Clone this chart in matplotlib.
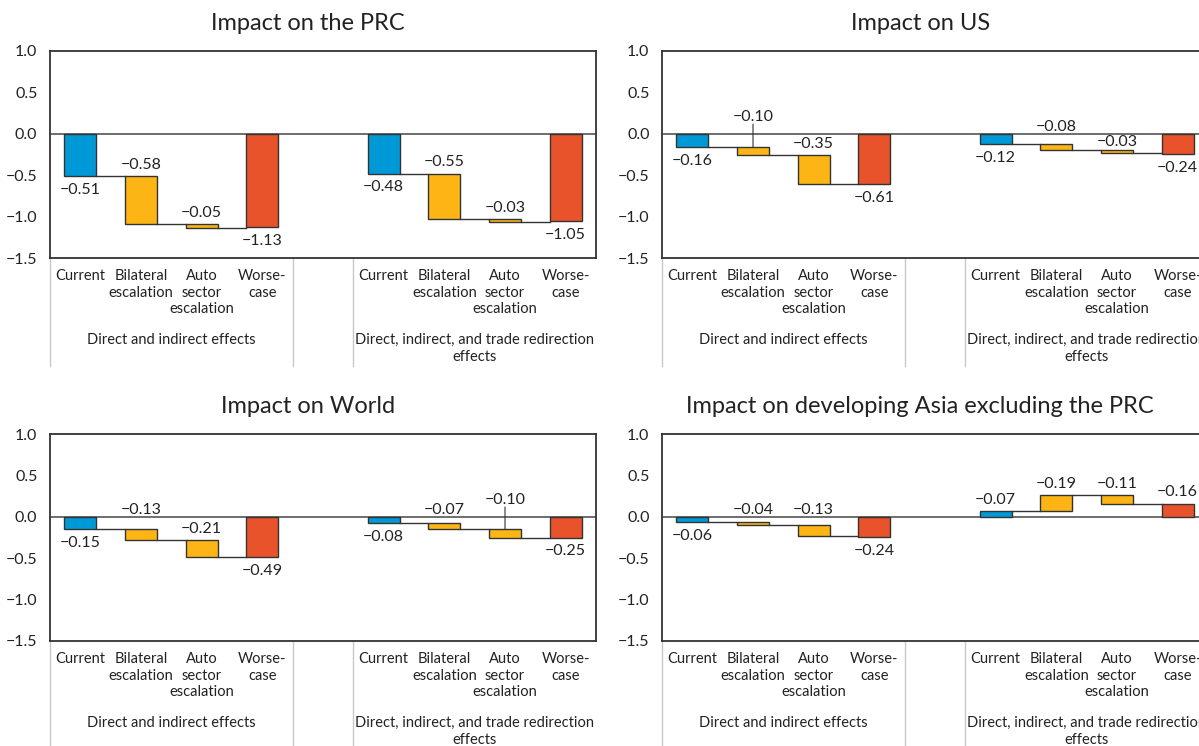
import numpy as np
import matplotlib.pyplot as plt
import matplotlib.transforms as mtransforms

plt.rcParams['font.family'] = ['Lato', 'DejaVu Sans']

# ---------------------------------------------------------------------------
# data
scenarios = ["Current", "Bilateral\nescalation", "Auto\nsector\nescalation", "Worse-\ncase"]
groups = ["Direct and indirect effects", "Direct, indirect, and trade redirection\neffects"]
titles = ["Impact on the PRC", "Impact on US", "Impact on World",
          "Impact on developing Asia excluding the PRC"]

prc = [[-0.51, -0.58, -0.05, -1.13], [-0.48, -0.55, -0.03, -1.05]]
us = [[-0.16, -0.10, -0.35, -0.61], [-0.12, -0.08, -0.03, -0.24]]
world = [[-0.15, -0.13, -0.21, -0.49], [-0.08, -0.07, -0.10, -0.25]]
asia = [[-0.06, -0.04, -0.13, -0.24], [0.07, 0.19, -0.11, 0.16]]

# labels as printed in the source (right-hand Asia group is printed with minus signs)
asia_labels = [["−0.06", "−0.04", "−0.13", "−0.24"], ["−0.07", "−0.19", "−0.11", "−0.16"]]

panels = [prc, us, world, asia]
# labels lifted with a leader line: (panel, group, bar)
leaders = [(1, 0, 1), (2, 1, 2)]

colors = ["#0099D8", "#FDB515", "#FDB515", "#E9532B"]
edge = "#333333"
width = 0.53
px_per_unit = 82.8   # vertical scale of each panel
label_h = 15         # approx. label height in px


def fmt(v):
    return f"{v:.2f}".replace("-", "−")


fig = plt.figure(figsize=(11.99, 7.46), dpi=100)
# axes boxes in pixels (left, top, right, bottom)
boxes = [(50, 51, 596, 258), (662, 51, 1208, 258),
         (50, 434, 596, 641), (662, 434, 1208, 641)]
W, H = 1199, 746

for p, (vals, title, box) in enumerate(zip(panels, titles, boxes)):
    l, t, r, b = box
    ax = fig.add_axes([l / W, 1 - b / H, (r - l) / W, (b - t) / H])
    ax.set_xlim(-0.5, 8.5)
    ax.set_ylim(-1.5, 1.0)
    ax.axhline(0, color="#555555", lw=1.2, zorder=1)

    for g, gv in enumerate(vals):
        xs = np.arange(4) + 5 * g
        cum = 0.0
        for i, v in enumerate(gv):
            if i < 3:
                start, end = cum, cum + v
            else:
                start, end = 0.0, v
            ax.bar(xs[i], end - start, bottom=start, width=width,
                   color=colors[i], edgecolor=edge, lw=1, zorder=3)
            if i < 3:
                cum = end
                ax.plot([xs[i] + width / 2, xs[i + 1] - width / 2], [cum, cum],
                        color=edge, lw=1, zorder=2)

            lab = asia_labels[g][i] if p == 3 else fmt(v)
            yref = end
            if i in (0, 3):
                off, va = (-5, "top") if end < 0 else (3, "bottom")
            else:
                yref = max(start, end)
                off, va = 3, "bottom"
                dist = -yref * px_per_unit
                if (p, g, i) in leaders:
                    ax.annotate("", xy=(xs[i], yref), xytext=(xs[i], 0),
                                textcoords=mtransforms.offset_copy(ax.transData, fig=fig, y=7, units="points"),
                                arrowprops=dict(arrowstyle="-", color=edge, lw=0.8,
                                                shrinkA=0, shrinkB=0))
                    yref, off = 0.0, 7
                elif 0 < dist < 4 + label_h + 1:
                    # keep the label clear of the zero line
                    if dist >= label_h + 1:
                        yref, off, va = 0.0, -1, "top"
                    else:
                        yref, off, va = 0.0, 0, "bottom"
            ax.annotate(lab, xy=(xs[i], yref), xytext=(0, off),
                        textcoords="offset points", ha="center", va=va,
                        fontsize=11.5, color="#222222", zorder=5)

        for i, s in enumerate(scenarios):
            ax.annotate(s, xy=(xs[i], 0), xycoords=("data", "axes fraction"),
                        xytext=(0, -8), textcoords="offset points",
                        ha="center", va="top", fontsize=10.5, color="#222222",
                        linespacing=1.22, annotation_clip=False)
        ax.annotate(groups[g], xy=(xs[0] + 1.5, 0), xycoords=("data", "axes fraction"),
                    xytext=(0, -54), textcoords="offset points",
                    ha="center", va="top", fontsize=10.5, color="#222222",
                    linespacing=1.3, annotation_clip=False)

    # separators under the axis
    trans = mtransforms.blended_transform_factory(ax.transData, ax.transAxes)
    for xsep in (-0.5, 3.5, 4.5):
        ax.plot([xsep, xsep], [0, -0.52], transform=trans, color="#c8c8c8",
                lw=1, clip_on=False, zorder=0)

    ticks = [-1.5, -1.0, -0.5, 0.0, 0.5, 1.0]
    ax.set_yticks(ticks)
    ax.set_yticklabels([f"{v:.1f}".replace("-", "−") for v in ticks])
    ax.set_xticks([])
    ax.tick_params(axis="y", length=0, pad=9, labelsize=11.5, labelcolor="#222222")
    for sp in ax.spines.values():
        sp.set_color(edge)
        sp.set_linewidth(1.3)
    ax.set_title(title, x=0.473, pad=15, fontsize=17, color="#222222")

plt.savefig("out.png", dpi=100)
